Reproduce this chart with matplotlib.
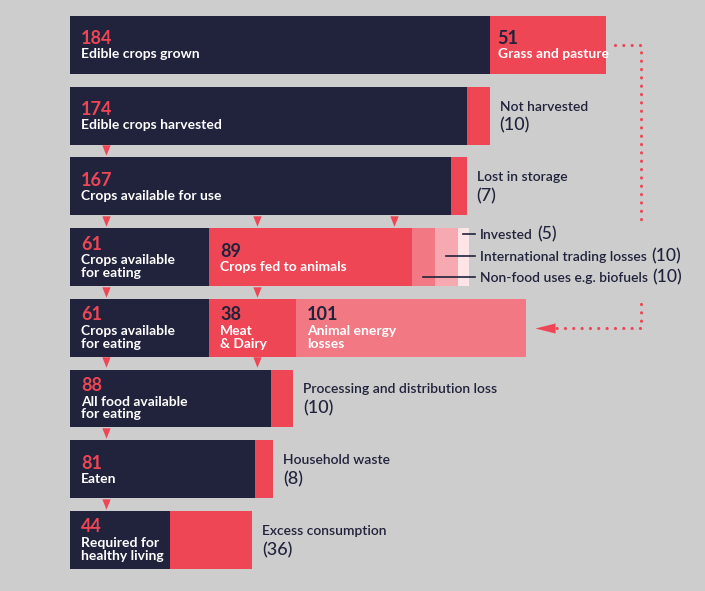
import matplotlib
matplotlib.use("Agg")
from matplotlib import pyplot as plt
from matplotlib import transforms

plt.rcParams['font.family'] = ['Lato', 'DejaVu Sans']

# chart values (units as printed)
main_values = [184, 174, 167, 61, 61, 88, 81, 44]
main_labels = ["Edible crops grown", "Edible crops harvested", "Crops available for use",
               "Crops available\nfor eating", "Crops available\nfor eating",
               "All food available\nfor eating", "Eaten", "Required for\nhealthy living"]

loss_rows = [1, 2, 5, 6, 7]
loss_values = [10, 7, 10, 8, 36]
loss_labels = ["Not harvested", "Lost in storage", "Processing and distribution loss",
               "Household waste", "Excess consumption"]

grass_value = 51
grass_label = "Grass and pasture"

fed_value = 89
fed_label = "Crops fed to animals"
other_values = [10, 10, 5]
other_labels = ["Non-food uses e.g. biofuels", "International trading losses", "Invested"]

meat_value = 38
meat_label = "Meat\n& Dairy"
energy_value = 101
energy_label = "Animal energy\nlosses"

# row -> x positions (units) of the little down arrows below it
flow_arrows = {1: [16], 2: [16, 82, 142], 3: [16, 82], 4: [16, 82], 5: [16], 6: [16]}

# colours
BG = '#cdcdcd'
NAVY = '#20233b'
RED = '#ef4656'
PINK = '#f27983'
PINK2 = '#f6a9b0'
PINK3 = '#fde4e6'

S = 2.28        # pixels per unit
ROW_PX = 70.7   # pixels per row
H = 0.82
LINE_PX = 13.5  # label line height in pixels

fig = plt.figure(figsize=(7.05, 5.91), dpi=100, facecolor=BG)
ax = fig.add_axes([0, 0, 1, 1])
ax.set_facecolor(BG)
ax.set_xlim(-70 / S, (705 - 70) / S)
ax.set_ylim((591 - 45) / ROW_PX, -45 / ROW_PX)
ax.axis('off')


def off(dx, dy):
    # offset in pixels, dy positive = downwards
    return transforms.offset_copy(ax.transData, fig=fig, x=dx, y=-dy, units='dots')


def block_text(row, left, number, label, num_color, pad=11):
    n = label.count('\n') + 1
    base = -0.5 - (n - 1) * 7.0
    ax.text(left, row, str(number), transform=off(pad, base), color=num_color,
            fontsize=13, fontweight='bold', va='baseline', ha='left')
    # multi-line text with baseline alignment sits on its last line
    ax.text(left, row, label, transform=off(pad, base + 14 + (n - 1) * LINE_PX),
            color='white', fontsize=10, fontweight='bold', va='baseline', ha='left',
            linespacing=1.08)


def side_text(row, x, label, value):
    ax.text(x, row, label, transform=off(10, -5), color=NAVY, fontsize=10,
            fontweight='semibold', va='baseline', ha='left')
    ax.text(x, row, "(%d)" % value, transform=off(10, 15), color=NAVY, fontsize=13,
            fontweight='medium', va='baseline', ha='left')


rows = list(range(len(main_values)))

# main navy bars
ax.barh(rows, main_values, height=H, color=NAVY)
for r in rows:
    block_text(r, 0, main_values[r], main_labels[r], RED)

# simple losses
loss_left = [main_values[r] for r in loss_rows]
ax.barh(loss_rows, loss_values, left=loss_left, height=H, color=RED)
for r, v, lab, lft in zip(loss_rows, loss_values, loss_labels, loss_left):
    side_text(r, lft + v, lab, v)

# grass and pasture
ax.barh(0, grass_value, left=main_values[0], height=H, color=RED)
block_text(0, main_values[0], grass_value, grass_label, NAVY, pad=8)

# crops fed to animals and the small uses
ax.barh(3, fed_value, left=main_values[3], height=H, color=RED)
block_text(3, main_values[3], fed_value, fed_label, NAVY)
left = main_values[3] + fed_value
seg_mid = []
for v, c in zip(other_values, [PINK, PINK2, PINK3]):
    ax.barh(3, v, left=left, height=H, color=c)
    seg_mid.append(left + v / 2)
    left += v
row3_end = left
line_dy = [20, -1, -23]
for lab, v, mid, dy in zip(other_labels, other_values, seg_mid, line_dy):
    ax.plot([mid, row3_end + 6 / S], [3 + dy / ROW_PX] * 2, color=NAVY, lw=1.2)
    t = ax.text(row3_end, 3, lab, transform=off(11, dy + 5), color=NAVY, fontsize=10,
                fontweight='semibold', va='baseline', ha='left')
    ax.annotate("(%d)" % v, xy=(1, 0), xycoords=t, xytext=(3, -1),
                textcoords='offset points', color=NAVY, fontsize=12.5,
                fontweight='medium', va='bottom', ha='left')

# meat & dairy, animal energy losses
ax.barh(4, meat_value, left=main_values[4], height=H, color=RED)
block_text(4, main_values[4], meat_value, meat_label, NAVY)
energy_left = main_values[4] + meat_value
ax.barh(4, energy_value, left=energy_left, height=H, color=PINK)
block_text(4, energy_left, energy_value, energy_label, NAVY)
row4_end = energy_left + energy_value

# little down arrows between rows
tri = [(-0.8, 1), (0.8, 1), (0, -1)]
for r, xs in flow_arrows.items():
    ax.plot(xs, [r + 0.49] * len(xs), ls='none', marker=tri, ms=7.5, color=RED, mec='none')

# dotted connector from grass to animal energy losses
row0_end = main_values[0] + grass_value
corner = row0_end + 35 / S
dots = dict(color=RED, lw=2.3, ls=(0, (0.01, 2.6)), dash_capstyle='round')
ax.plot([row0_end + 9 / S, corner, corner], [0, 0, 3 - H / 2 - 6 / ROW_PX], **dots)
ax.plot([corner, corner, row4_end + 30 / S], [4 - H / 2 + 5 / ROW_PX, 4, 4], **dots)
ax.plot([row4_end + 19 / S], [4], ls='none', marker=[(-1, 0), (1, 0.5), (1, -0.5)],
        ms=14.5, color=RED, mec='none')

fig.savefig("out.png", dpi=100, facecolor=BG)
